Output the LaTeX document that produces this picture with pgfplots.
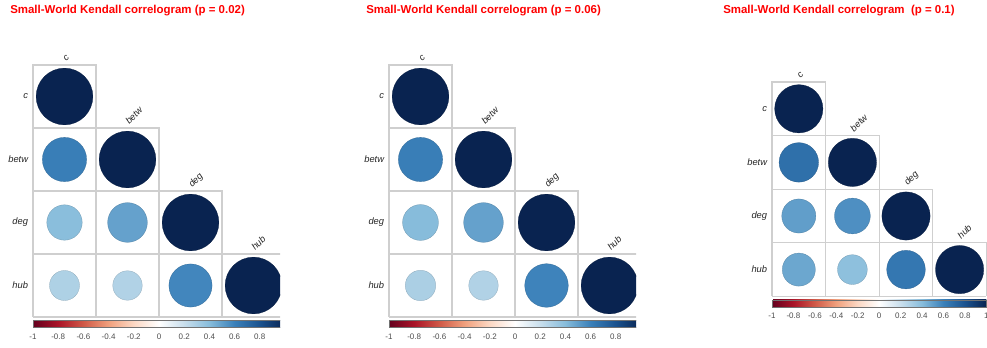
\documentclass[border=0pt]{standalone}
\usepackage{pgfplots}
\usepackage{pgfplotstable}
\pgfplotsset{compat=1.18}
\usepackage{fontspec}
\setmainfont{Liberation Sans}
\usetikzlibrary{calc}
\definecolor{gridc}{HTML}{CFCFCF}
\definecolor{ticktext}{HTML}{4D4D4D}
\definecolor{titlered}{HTML}{FF0000}

\tikzset{lab/.style={font=\fontsize{7}{8}\selectfont\itshape, text=black!85, inner sep=0pt}}
\pgfplotsset{
  colormap={RdBu}{rgb255=(100,0,30) rgb255=(170,20,40) rgb255=(208,90,72) rgb255=(240,160,125) rgb255=(252,216,196) rgb255=(255,255,255) rgb255=(200,222,236) rgb255=(135,188,219) rgb255=(58,128,185) rgb255=(27,82,142) rgb255=(9,35,80)},
  corr/.style={
    scale only axis, width=#1, height=#1,
    xmin=0.5, xmax=4.5, ymin=0.5, ymax=4.5, y dir=reverse,
    axis line style={draw=none}, xtick=\empty, ytick=\empty,
    clip=false, point meta min=-1, point meta max=1,
    colormap name=RdBu,
    colorbar horizontal,
    colorbar style={
      at={($(parent axis.south west)+(0,6pt)$)}, anchor=north west,
      scale only axis, width=#1, height=5.25pt,
      xtick={-1,-0.8,-0.6,-0.4,-0.2,0,0.2,0.4,0.6,0.8,1},
      ytick=\empty,
      xtick pos=bottom,
      major tick length=0pt,
      axis line style={ticktext!80, line width=0.4pt},
      /pgf/number format/assume math mode=true,
      xticklabel style={font=\fontsize{6}{7}\selectfont, text=ticktext, inner sep=0pt, yshift=-4.6pt},
    },
  },
}

\pgfplotstableread{
x y r
1 1 1
1 2 0.61
2 2 1
1 3 0.39
2 3 0.49
3 3 1
1 4 0.28
2 4 0.27
3 4 0.58
4 4 1
}\dataA
\pgfplotstableread{
x y r
1 1 1
1 2 0.61
2 2 1
1 3 0.40
2 3 0.49
3 3 1
1 4 0.29
2 4 0.27
3 4 0.59
4 4 1
}\dataB
\pgfplotstableread{
x y r
1 1 1
1 2 0.67
2 2 1
1 3 0.50
2 3 0.55
3 3 1
1 4 0.47
2 4 0.38
3 4 0.64
4 4 1
}\dataC

\newcommand\gridlines{%
  \draw[gridc, line width=0.8pt]
    (axis cs:0.5,4.5) -- (axis cs:0.5,0.5) -- (axis cs:1.5,0.5) -- (axis cs:1.5,4.5)
    (axis cs:0.5,1.5) -- (axis cs:2.5,1.5) -- (axis cs:2.5,4.5)
    (axis cs:0.5,2.5) -- (axis cs:3.5,2.5) -- (axis cs:3.5,4.5)
    (axis cs:0.5,3.5) -- (axis cs:4.5,3.5) -- (axis cs:4.5,4.5)
    (axis cs:0.5,4.5) -- (axis cs:4.5,4.5);
}
\newcommand\corrlabels{%
  \node[lab, anchor=east, xshift=-3.5pt] at (axis cs:0.5,1) {c};
  \node[lab, anchor=east, xshift=-3.5pt] at (axis cs:0.5,2) {betw};
  \node[lab, anchor=east, xshift=-3.5pt] at (axis cs:0.5,3) {deg};
  \node[lab, anchor=east, xshift=-3.5pt] at (axis cs:0.5,4) {hub};
  \node[lab, rotate=45, anchor=base west, yshift=0.8pt, xshift=2.5pt] at (axis cs:1,0.5) {c};
  \node[lab, rotate=45, anchor=base west, yshift=0.8pt, xshift=2.5pt] at (axis cs:2,1.5) {betw};
  \node[lab, rotate=45, anchor=base west, yshift=0.8pt, xshift=2.5pt] at (axis cs:3,2.5) {deg};
  \node[lab, rotate=45, anchor=base west, yshift=0.8pt, xshift=2.5pt] at (axis cs:4,3.5) {hub};
}
\newcommand\circles[2]{%
  \addplot[scatter, only marks, mark=*, scatter src=explicit,
    mark options={line width=0.2pt},
    visualization depends on={#1*sqrt(abs(\thisrow{r})) \as \rad},
    scatter/@pre marker code/.append style={/tikz/mark size=\rad}]
    table[x=x, y=y, meta=r] {#2};
}

\begin{document}
\begin{tikzpicture}
\useasboundingbox (0pt,0pt) rectangle (740.25pt,-261pt);

\node[anchor=west, inner sep=0pt, text=titlered, font=\bfseries\fontsize{8.6}{10}\selectfont] at (7.5pt,-8.25pt) {Small-World Kendall correlogram (p = 0.02)};
\node[anchor=west, inner sep=0pt, text=titlered, font=\bfseries\fontsize{8.6}{10}\selectfont] at (274.5pt,-8.25pt) {Small-World Kendall correlogram (p = 0.06)};
\node[anchor=west, inner sep=0pt, text=titlered, font=\bfseries\fontsize{8.6}{10}\selectfont] at (542.25pt,-8.25pt) {Small-World Kendall correlogram\ \ (p = 0.1)};

\begin{scope}
\clip (0pt,0pt) rectangle (210pt,-261pt);
\begin{axis}[corr=189pt, at={(24.75pt,-48.75pt)}, anchor=north west]
\gridlines
\circles{21.26}{\dataA}
\corrlabels
\end{axis}
\end{scope}

\begin{scope}
\clip (255pt,0pt) rectangle (477pt,-261pt);
\begin{axis}[corr=189pt, at={(291.75pt,-48.75pt)}, anchor=north west]
\gridlines
\circles{21.26}{\dataB}
\corrlabels
\end{axis}
\end{scope}

\begin{axis}[corr=160.8pt, at={(579pt,-61.5pt)}, anchor=north west]
\gridlines
\circles{18.09}{\dataC}
\corrlabels
\end{axis}
\end{tikzpicture}
\end{document}
